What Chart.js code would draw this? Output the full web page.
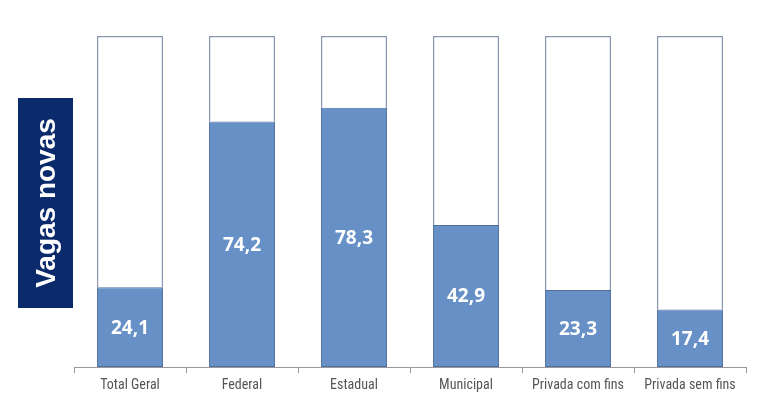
<!DOCTYPE html>
<html>
<head>
<meta charset="utf-8">
<script src="https://cdn.jsdelivr.net/npm/chart.js@4"></script>
<style>
  html, body { margin: 0; padding: 0; background: #fff; }
  #wrap { width: 759px; height: 404px; position: relative; }
</style>
</head>
<body>
<div id="wrap"><canvas id="c" width="759" height="404"></canvas></div>
<script>
// categories and share of new places (%)
const categories = ['Total Geral', 'Federal', 'Estadual', 'Municipal', 'Privada com fins', 'Privada sem fins']
const vagasNovas = [24.1, 74.2, 78.3, 42.9, 23.3, 17.4]
const restante = vagasNovas.map(v => +(100 - v).toFixed(1))
const axisTitle = 'Vagas novas'

// draw the value inside the blue part of each bar
const valueLabels = {
  id: 'valueLabels',
  afterDatasetsDraw (chart) {
    const { ctx } = chart
    const meta = chart.getDatasetMeta(0)
    ctx.save()
    ctx.fillStyle = '#ffffff'
    ctx.font = 'bold 19px "Open Sans", "DejaVu Sans", sans-serif'
    ctx.textAlign = 'center'
    ctx.textBaseline = 'middle'
    meta.data.forEach((bar, i) => {
      const v = vagasNovas[i]
      ctx.fillText(v.toFixed(1).replace('.', ','), bar.x, (bar.y + bar.base) / 2 + 1)
    })
    ctx.restore()
  }
}

// navy box with rotated axis title
const titleBox = {
  id: 'titleBox',
  afterDraw (chart) {
    const { ctx } = chart
    ctx.save()
    ctx.fillStyle = '#0b2a6b'
    ctx.fillRect(18, 98, 55, 210)
    ctx.translate(46, 203)
    ctx.rotate(-Math.PI / 2)
    ctx.fillStyle = '#ffffff'
    ctx.font = 'bold 28px "Liberation Sans", Arial, sans-serif'
    ctx.textAlign = 'center'
    ctx.textBaseline = 'middle'
    ctx.fillText(axisTitle, 0, 1)
    ctx.restore()
  }
}

new Chart(document.getElementById('c'), {
  type: 'bar',
  data: {
    labels: categories,
    datasets: [
      {
        label: 'Vagas novas',
        data: vagasNovas,
        backgroundColor: '#6690c6',
        borderColor: '#4d6f9e',
        borderWidth: 1,
        borderSkipped: false,
        categoryPercentage: 1,
        barPercentage: 0.59
      },
      {
        label: 'Restante',
        data: restante,
        backgroundColor: '#ffffff',
        borderColor: '#8c97b4',
        borderWidth: 1.5,
        borderSkipped: 'bottom',
        categoryPercentage: 1,
        barPercentage: 0.59
      }
    ]
  },
  options: {
    responsive: false,
    animation: false,
    layout: { padding: { left: 74, right: 13, top: 36, bottom: 0 } },
    scales: {
      x: {
        stacked: true,
        afterFit: scale => { scale.height = 37 },
        grid: { offset: true, drawOnChartArea: false, tickLength: 6, color: '#9a9a9a' },
        border: { color: '#9a9a9a', width: 1 },
        ticks: {
          color: '#555',
          padding: 4,
          font: { family: '"Liberation Sans Narrow", "Roboto Condensed", "Liberation Sans", sans-serif', size: 14 }
        }
      },
      y: {
        stacked: true,
        display: false,
        min: 0,
        max: 100
      }
    },
    plugins: {
      legend: { display: false },
      tooltip: { enabled: false }
    }
  },
  plugins: [valueLabels, titleBox]
})
</script>
</body>
</html>
